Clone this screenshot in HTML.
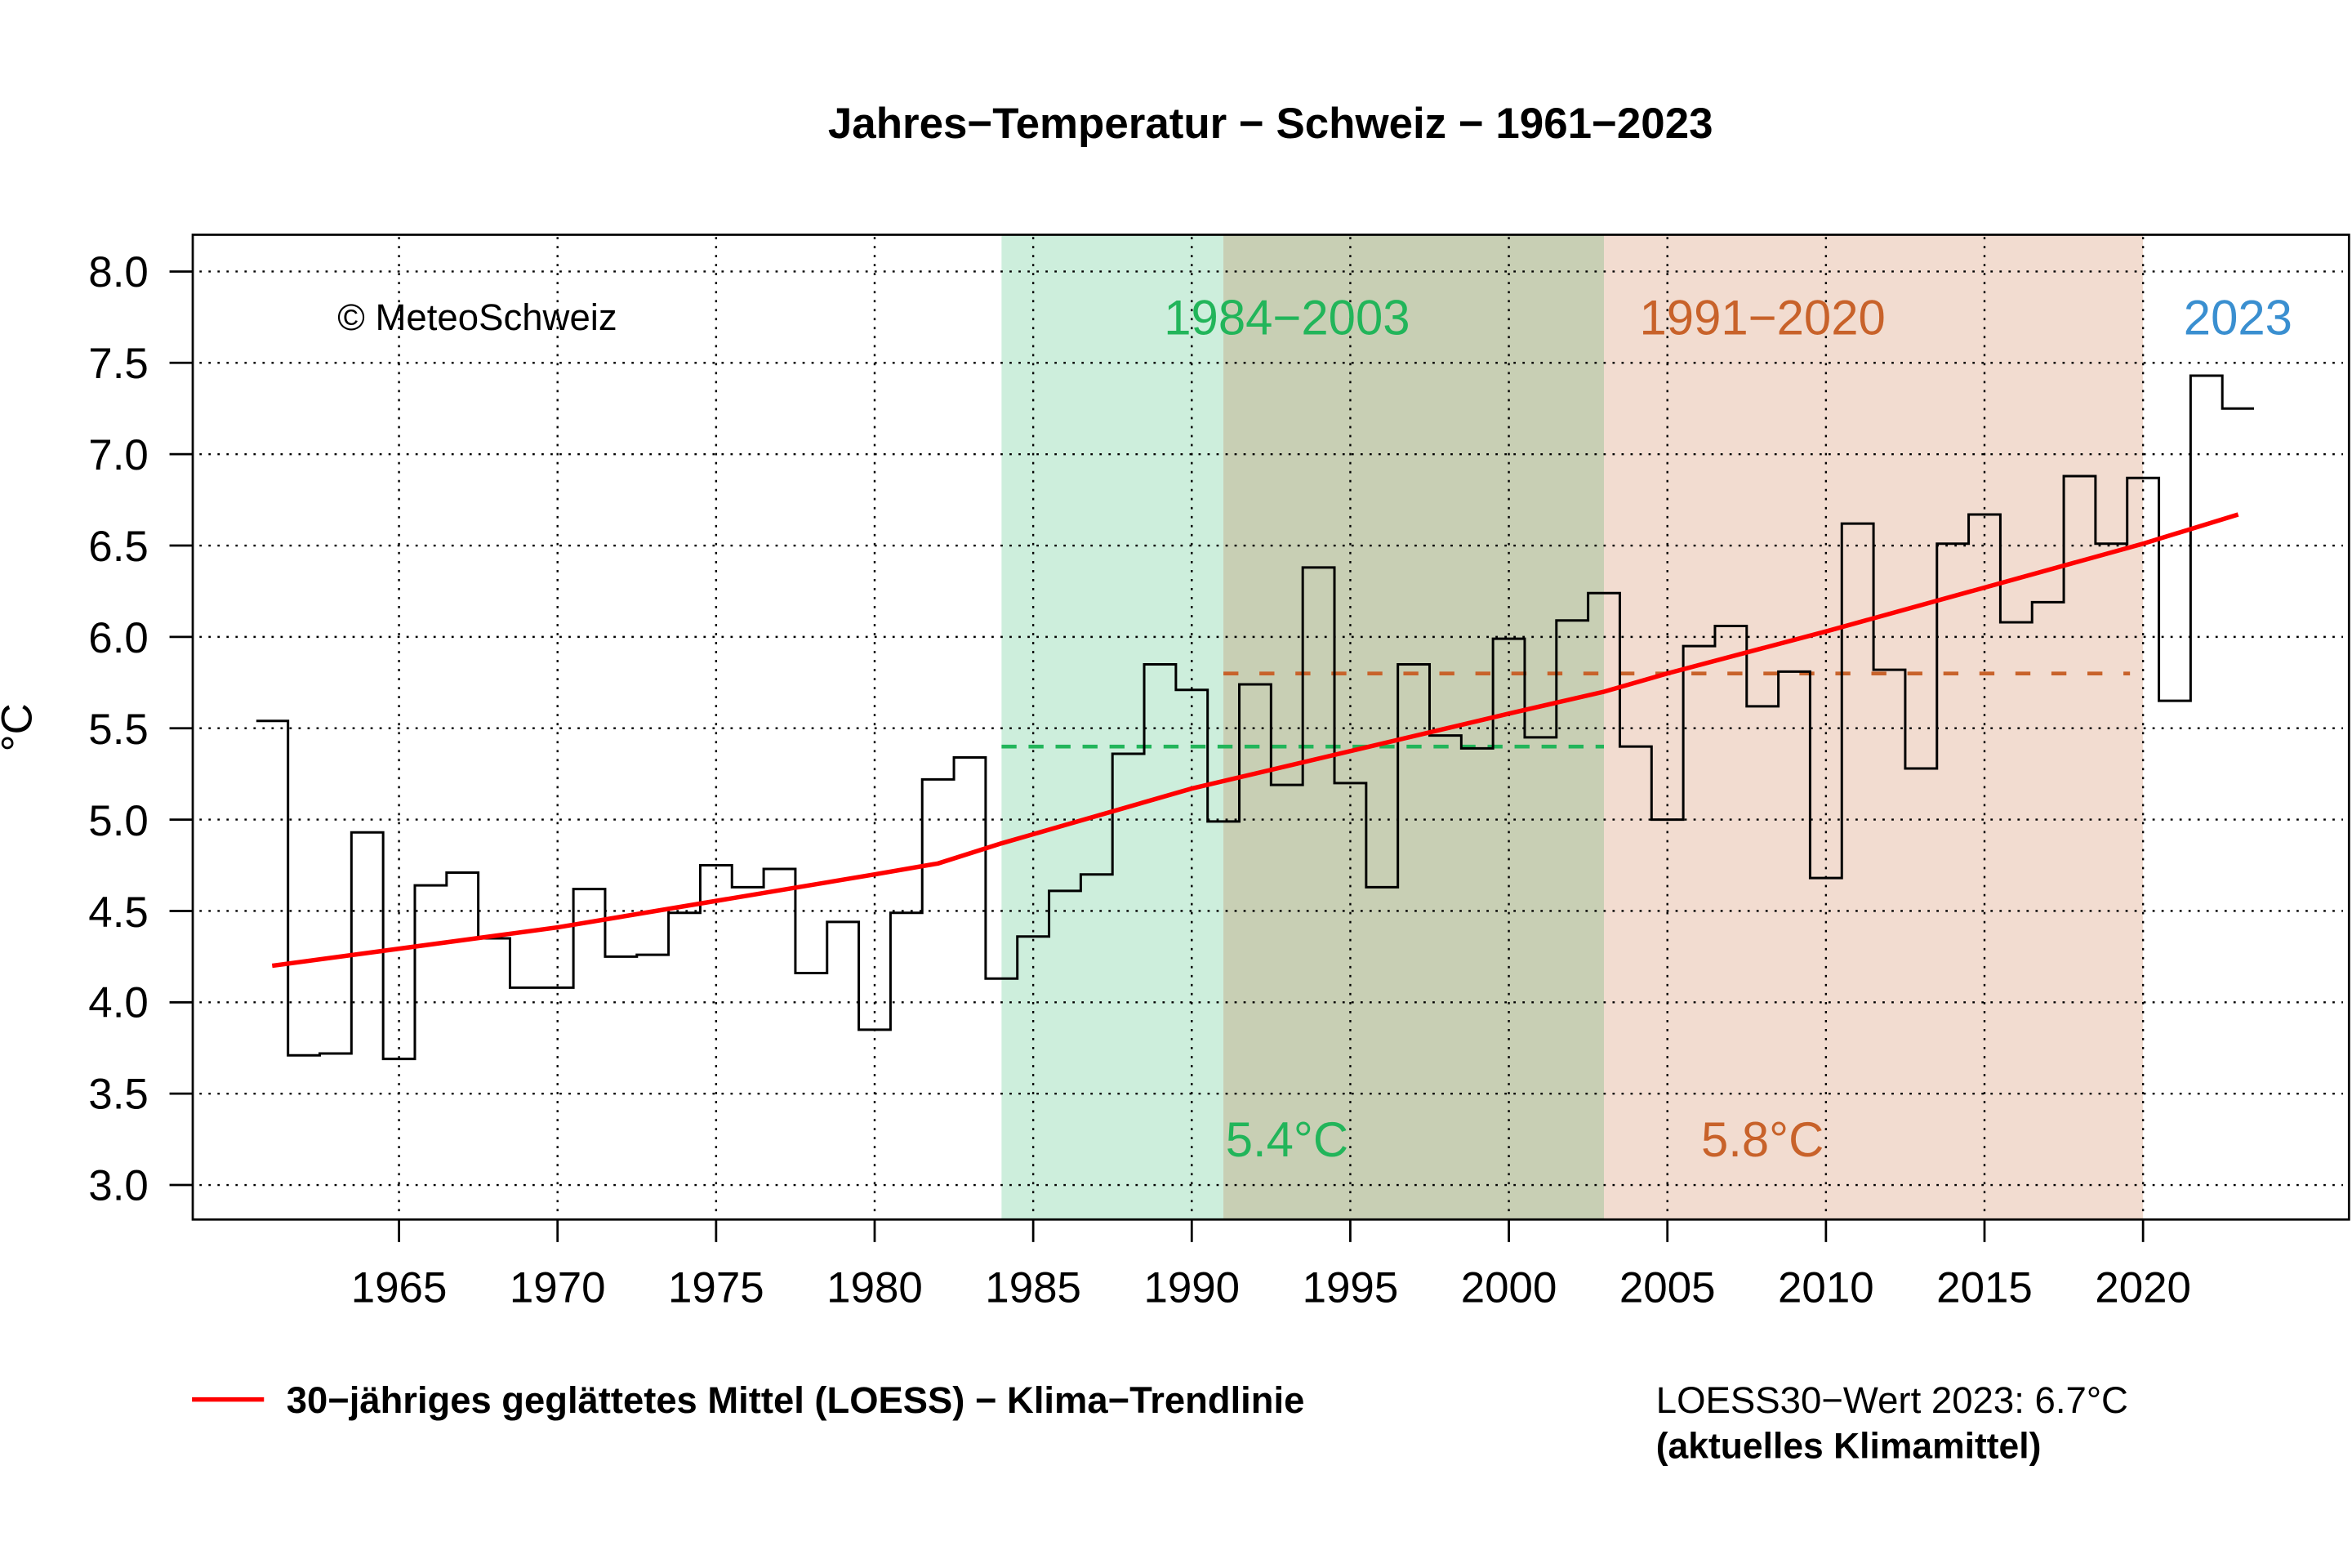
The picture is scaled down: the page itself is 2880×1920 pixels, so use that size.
<!DOCTYPE html>
<html><head><meta charset="utf-8"><style>
html,body{margin:0;padding:0;background:#fff}
svg{display:block}
text{font-family:"Liberation Sans",sans-serif}
</style></head><body>
<svg width="2880" height="1920" viewBox="0 0 1568 1045.33" preserveAspectRatio="none" xmlns="http://www.w3.org/2000/svg">
<rect x="0" y="0" width="1568" height="1046" fill="#fff"/>
<text x="847" y="92" font-size="28.8" font-weight="bold" text-anchor="middle">Jahres−Temperatur − Schweiz − 1961−2023</text>
<rect x="667.7" y="156" width="147.9" height="657" fill="#cdeedc"/>
<rect x="815.6" y="156" width="253.7" height="657" fill="#c8cfb4"/>
<rect x="1069.3" y="156" width="359.4" height="657" fill="#f2dcd0"/>
<g stroke="#000" stroke-width="1.3" stroke-dasharray="1.5,4.5" fill="none">
<path d="M133 181H1562M133 241.9H1562M133 302.8H1562M133 363.7H1562M133 424.6H1562M133 485.5H1562M133 546.4H1562M133 607.3H1562M133 668.2H1562M133 729.1H1562M133 790H1562"/>
<path d="M266 158V811M371.7 158V811M477.4 158V811M583.1 158V811M688.8 158V811M794.5 158V811M900.2 158V811M1005.9 158V811M1111.6 158V811M1217.3 158V811M1323 158V811M1428.7 158V811"/>
</g>
<path d="M667.7 497.7H1069.3" stroke="#22b55a" stroke-width="2.5" stroke-dasharray="10,8" fill="none"/>
<path d="M815.6 449H1420" stroke="#c8622a" stroke-width="2.5" stroke-dasharray="10,14" fill="none"/>
<g transform="matrix(21.14 0 0 -121.8 -41274.1 1155.4)">
<path vector-effect="non-scaling-stroke" stroke="#000" stroke-width="3" fill="none" d="M1960.5 5.54H1961.5V3.71H1962.5V3.72H1963.5V4.93H1964.5V3.69H1965.5V4.64H1966.5V4.71H1967.5V4.35H1968.5V4.08H1969.5V4.08H1970.5V4.62H1971.5V4.25H1972.5V4.26H1973.5V4.49H1974.5V4.75H1975.5V4.63H1976.5V4.73H1977.5V4.16H1978.5V4.44H1979.5V3.85H1980.5V4.49H1981.5V5.22H1982.5V5.34H1983.5V4.13H1984.5V4.36H1985.5V4.61H1986.5V4.70H1987.5V5.36H1988.5V5.85H1989.5V5.71H1990.5V4.99H1991.5V5.74H1992.5V5.19H1993.5V6.38H1994.5V5.20H1995.5V4.63H1996.5V5.85H1997.5V5.46H1998.5V5.39H1999.5V5.99H2000.5V5.45H2001.5V6.09H2002.5V6.24H2003.5V5.40H2004.5V5.00H2005.5V5.95H2006.5V6.06H2007.5V5.62H2008.5V5.81H2009.5V4.68H2010.5V6.62H2011.5V5.82H2012.5V5.28H2013.5V6.51H2014.5V6.67H2015.5V6.08H2016.5V6.19H2017.5V6.88H2018.5V6.51H2019.5V6.87H2020.5V5.65H2021.5V7.43H2022.5V7.25H2023.5"/>
<path vector-effect="non-scaling-stroke" stroke="#f00" stroke-width="5.5" fill="none" d="M1961 4.20L1970 4.41L1980 4.70L1982 4.76L1984 4.87L1990 5.17L2000 5.58L2003 5.70L2005 5.80L2010 6.03L2015 6.27L2020 6.51L2023 6.67"/>
</g>
<rect x="128.5" y="156.5" width="1437.5" height="656.5" fill="none" stroke="#000" stroke-width="1.5"/>
<g stroke="#000" stroke-width="1.5">
<path d="M113 181H128M113 241.9H128M113 302.8H128M113 363.7H128M113 424.6H128M113 485.5H128M113 546.4H128M113 607.3H128M113 668.2H128M113 729.1H128M113 790H128"/>
<path d="M266 813V828M371.7 813V828M477.4 813V828M583.1 813V828M688.8 813V828M794.5 813V828M900.2 813V828M1005.9 813V828M1111.6 813V828M1217.3 813V828M1323 813V828M1428.7 813V828"/>
</g>
<g font-size="28.8" text-anchor="end">
<text x="99" y="191">8.0</text><text x="99" y="252">7.5</text><text x="99" y="313">7.0</text><text x="99" y="374">6.5</text><text x="99" y="435">6.0</text><text x="99" y="496">5.5</text><text x="99" y="557">5.0</text><text x="99" y="618">4.5</text><text x="99" y="678">4.0</text><text x="99" y="739">3.5</text><text x="99" y="800">3.0</text>
</g>
<g font-size="28.8" text-anchor="middle">
<text x="266" y="868">1965</text><text x="371.7" y="868">1970</text><text x="477.4" y="868">1975</text><text x="583.1" y="868">1980</text><text x="688.8" y="868">1985</text><text x="794.5" y="868">1990</text><text x="900.2" y="868">1995</text><text x="1005.9" y="868">2000</text><text x="1111.6" y="868">2005</text><text x="1217.3" y="868">2010</text><text x="1323" y="868">2015</text><text x="1428.7" y="868">2020</text>
</g>
<text transform="translate(21,485) rotate(-90)" font-size="28.8" text-anchor="middle">°C</text>
<text x="225" y="220" font-size="24.8">© MeteoSchweiz</text>
<text x="858" y="223" font-size="32.6" fill="#22b55a" text-anchor="middle">1984−2003</text>
<text x="1175" y="223" font-size="32.6" fill="#c8622a" text-anchor="middle">1991−2020</text>
<text x="1492" y="223" font-size="32.6" fill="#3a8fd0" text-anchor="middle">2023</text>
<text x="858" y="771" font-size="32.6" fill="#22b55a" text-anchor="middle">5.4°C</text>
<text x="1175" y="771" font-size="32.6" fill="#c8622a" text-anchor="middle">5.8°C</text>
<path d="M128 933H176" stroke="#f00" stroke-width="3"/>
<text x="191" y="942" font-size="24.7" font-weight="bold">30−jähriges geglättetes Mittel (LOESS) − Klima−Trendlinie</text>
<text x="1104" y="942" font-size="24.8">LOESS30−Wert 2023: 6.7°C</text>
<text x="1104" y="972" font-size="24.2" font-weight="bold">(aktuelles Klimamittel)</text>
</svg>
</body></html>
